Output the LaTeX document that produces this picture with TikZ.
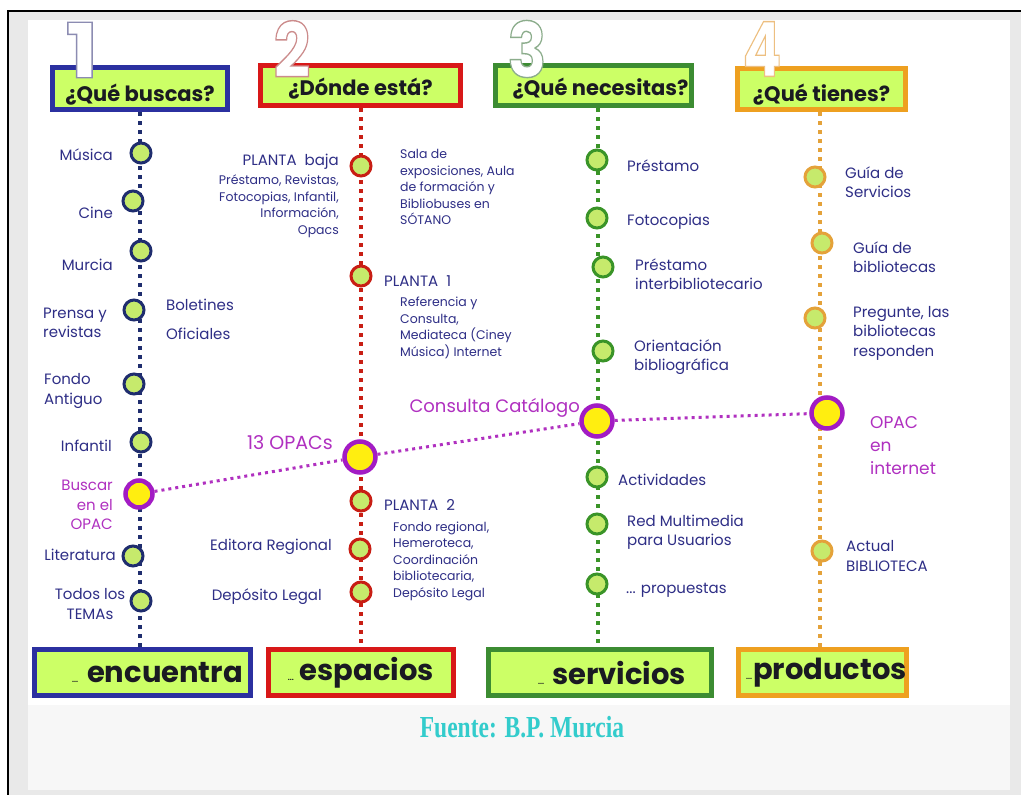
\documentclass[tikz,border=0pt]{standalone}
\usepackage{fontspec}
\setmainfont{Poppins}
\newfontfamily\fuentefont{Liberation Serif}
\usepackage{graphicx}
\usetikzlibrary{calc}
\definecolor{navyT}{HTML}{2E2E86}
\definecolor{blueB}{HTML}{2B30A0}
\definecolor{redB}{HTML}{D81818}
\definecolor{greenB}{HTML}{3C8C32}
\definecolor{orangeB}{HTML}{EEA020}
\definecolor{boxfill}{HTML}{CCFF66}
\definecolor{circfill}{HTML}{C6EA6C}
\definecolor{navyC}{HTML}{1F2D6E}
\definecolor{redC}{HTML}{C81E14}
\definecolor{greenC}{HTML}{3A9428}
\definecolor{orangeC}{HTML}{E4A23A}
\definecolor{purpleC}{HTML}{A21CC4}
\definecolor{purpleT}{HTML}{B030C0}
\definecolor{yellowC}{HTML}{FFEE10}
\definecolor{frameG}{HTML}{E9E9E9}
\definecolor{lightG}{HTML}{F7F7F7}
\definecolor{tealT}{HTML}{33CCCC}
\definecolor{headT}{HTML}{1A1A22}
\pgfdeclarelayer{bg}
\pgfsetlayers{bg,main}
\tikzset{
  hbox/.style={rectangle, line width=5, fill=boxfill, text=headT, inner sep=0,
    font=\bfseries\fontsize{21}{21}\selectfont},
  bbox/.style={rectangle, line width=5, fill=boxfill, text=headT, inner sep=0,
    font=\bfseries\fontsize{29}{29}\selectfont},
  digitnode/.style={inner sep=0, font=\bfseries\fontsize{76}{76}\selectfont},
  lb/.style={text=navyT, inner sep=0, font=\fontsize{15}{19.5}\selectfont},
  sm/.style={text=navyT, inner sep=0, font=\fontsize{12.5}{16.5}\selectfont},
  circ/.style={circle, minimum size=20, inner sep=0, line width=3, fill=circfill},
  c1/.style={circ, draw=navyC},
  c2/.style={circ, draw=redC},
  c3/.style={circ, draw=greenC},
  c4/.style={circ, draw=orangeC},
  bigc/.style={circle, minimum size=31, inner sep=0, line width=4.5, draw=purpleC, fill=yellowC},
  spine/.style={line width=4, dash pattern=on 4 off 5},
  opacline/.style={line width=3, dash pattern=on 3 off 4, draw=purpleT},
}
% outlined (white filled, coloured stroke) text
\newcommand\outlinetext[2]{{\color{white}\special{pdf:literal direct #1 RG 2 Tr 1.4 w}#2\special{pdf:literal direct 0 Tr}}}
\newcommand\tdots{{\fontsize{7}{7}\selectfont ...}}
\newcommand\lowered[2]{\raisebox{-#1}[\height][\depth]{#2}}
\begin{document}
\begin{tikzpicture}[x=1pt,y=-1pt]
\useasboundingbox (0,0) rectangle (1021,795);

% header boxes
\node[hbox, draw=blueB, minimum width=175, minimum height=42] (h1) at (140,88.5) {\lowered{6pt}{¿Qué buscas?}};
\node[hbox, draw=redB, minimum width=200, minimum height=40] (h2) at (360.5,85.5) {\lowered{3pt}{¿Dónde está?}};
\node[hbox, draw=greenB, minimum width=196, minimum height=40] (h3) at (593.5,85.5) {\lowered{3pt}{\hspace*{14pt}¿Qué necesitas?}};
\node[hbox, draw=orangeB, minimum width=168, minimum height=41] (h4) at (821.5,89) {\lowered{6pt}{¿Qué tienes?}};

% big digits
\node[digitnode] (d1) at (82,50) {\scalebox{1.15}[1]{\outlinetext{0.55 0.55 0.70}{1}}};
\node[digitnode] (d2) at (292,49) {\scalebox{0.85}[1]{\outlinetext{0.80 0.55 0.55}{2}}};
\node[digitnode] (d3) at (527,49) {\scalebox{0.85}[1]{\outlinetext{0.55 0.68 0.55}{3}}};
\node[digitnode] (d4) at (762,49) {\scalebox{0.75}[1]{\outlinetext{0.93 0.75 0.50}{4}}};

% bottom boxes
\node[bbox, draw=blueB, minimum width=216, minimum height=46] (b1) at (142.5,672.5) {\hspace*{30pt}\tdots\hspace{9pt}encuentra};
\node[bbox, draw=redB, minimum width=185, minimum height=46] (b2) at (361,672.5) {\tdots\hspace{6pt}espacios};
\node[bbox, draw=greenB, minimum width=223, minimum height=46] (b3) at (600,672.5) {\hspace*{24pt}\tdots\hspace{8pt}servicios};
\node[bbox, draw=orangeB, minimum width=166, minimum height=46] (b4) at (822.5,672.5) {\hspace*{8pt}\tdots\hspace{1pt}productos};

% column 1 circles
\node[c1] (musica) at (141,153) {};
\node[c1] (cine) at (133,201) {};
\node[c1] (murcia) at (141,251) {};
\node[c1] (prensa) at (134,310) {};
\node[c1] (fondo) at (134,384) {};
\node[c1] (infantil) at (141,442) {};
\node[bigc, minimum size=27] (buscar) at (139,494) {};
\node[c1] (literatura) at (133,556) {};
\node[c1] (todos) at (141,601) {};

% column 2 circles
\node[c2] (pb) at (361,166) {};
\node[c2] (p1) at (361,276) {};
\node[bigc] (opacs) at (360,457) {};
\node[c2] (p2) at (361,501) {};
\node[c2] (editora) at (360,549) {};
\node[c2] (deposito) at (361,592) {};

% column 3 circles
\node[c3] (prest) at (597,160) {};
\node[c3] (foto) at (597,218) {};
\node[c3] (inter) at (603,267) {};
\node[c3] (orient) at (603,351) {};
\node[bigc] (catalogo) at (597,421) {};
\node[c3] (act) at (597,477) {};
\node[c3] (red) at (597,524) {};
\node[c3] (prop) at (597,584) {};

% column 4 circles
\node[c4] (gs) at (815,177) {};
\node[c4] (gb) at (822,243) {};
\node[c4] (preg) at (815,318) {};
\node[bigc] (opacint) at (827,413) {};
\node[c4] (actual) at (822,551) {};

% purple connector
\draw[opacline] (buscar) -- (opacs) -- (catalogo) -- (opacint);

% column 1 labels
\node[lb, anchor=east] (lMusica) at (113,155) {Música};
\node[lb, anchor=east] (lCine) at (113,213) {Cine};
\node[lb, anchor=east] (lMurcia) at (113,265) {Murcia};
\node[lb, anchor=west, align=left] (lPrensa) at (43,323) {Prensa y\\revistas};
\node[lb, anchor=west] (lBol) at (166,305) {Boletines};
\node[lb, anchor=west] (lOfi) at (166,334) {Oficiales};
\node[lb, anchor=west, align=left] (lFondo) at (44,391) {Fondo\\Antiguo};
\node[lb, anchor=east] (lInf) at (112,446) {Infantil};
\node[lb, anchor=east, align=right, text=purpleT] (lBuscar) at (113,505) {Buscar\\en el\\OPAC};
\node[lb, anchor=east] (lLit) at (116,555) {Literatura};
\node[lb, align=center] (lTodos) at (90,604) {Todos los\\TEMAs};

% column 2 labels
\node[lb, anchor=east] (lPB) at (339,162) {PLANTA\ \ baja};
\node[sm, anchor=east, align=right] (lPBs) at (339,206) {Préstamo, Revistas,\\Fotocopias, Infantil,\\Información,\\Opacs};
\node[sm, anchor=west, align=left] (lSala) at (400,187) {Sala de\\exposiciones, Aula\\de formación y\\Bibliobuses en\\SÓTANO};
\node[lb, anchor=west] (lP1) at (384,281) {PLANTA\ \ 1};
\node[sm, anchor=west, align=left] (lP1s) at (400,328) {Referencia y\\Consulta,\\Mediateca (Ciney\\Música) Internet};
\node[lb, anchor=east, text=purpleT, font=\fontsize{19}{20}\selectfont] (l13) at (333,443) {13 OPACs};
\node[lb, anchor=west] (lP2) at (384,505) {PLANTA\ \ 2};
\node[sm, anchor=west, align=left] (lP2s) at (393,561) {Fondo regional,\\Hemeroteca,\\Coordinación\\bibliotecaria,\\Depósito Legal};
\node[lb, anchor=east] (lEd) at (332,547) {Editora Regional};
\node[lb, anchor=east] (lDep) at (322,597) {Depósito Legal};

% column 3 labels
\node[lb, anchor=west] (lPrest) at (627,166) {Préstamo};
\node[lb, anchor=west] (lFoto) at (627,222) {Fotocopias};
\node[lb, anchor=west, align=left] (lInter) at (635,274) {Préstamo\\interbibliotecario};
\node[lb, anchor=west, align=left] (lOrient) at (634,357) {Orientación\\bibliográfica};
\node[lb, anchor=east, text=purpleT, font=\fontsize{18}{20}\selectfont] (lCat) at (580,408) {Consulta Catálogo};
\node[lb, anchor=west] (lAct) at (618,480) {Actividades};
\node[lb, anchor=west, align=left] (lRed) at (627,532) {Red Multimedia\\para Usuarios};
\node[lb, anchor=west] (lProp) at (626,590) {... propuestas};

% column 4 labels
\node[lb, anchor=west, align=left] (lGS) at (845,182) {Guía de\\Servicios};
\node[lb, anchor=west, align=left] (lGB) at (853,257) {Guía de\\bibliotecas};
\node[lb, anchor=west, align=left] (lPreg) at (853,333) {Pregunte, las\\bibliotecas\\responden};
\node[lb, anchor=west, align=left, text=purpleT, font=\fontsize{17}{23}\selectfont] (lOPACi) at (870,446) {OPAC\\en\\internet};
\node[lb, anchor=west, align=left] (lActual) at (846,556) {Actual\\BIBLIOTECA};

% source
\node[text=tealT, inner sep=0, font=\fuentefont\bfseries\fontsize{23.5}{24}\selectfont] (src) at (522,727) {\scalebox{1}[1.3]{Fuente: B.P. Murcia}};

\begin{pgfonlayer}{bg}
  \fill[white] (0,0) rectangle (1021,795);
  \fill[frameG] (8,11) rectangle (1021,795);
  \draw[black, line width=2] (8,795) -- (8,11) -- (1021,11);
  \fill[white] (28,20) rectangle (1010,705);
  \fill[lightG] (28,705) rectangle (1010,790);
  \coordinate (s1) at (140,0);
  \coordinate (s2) at (361,0);
  \coordinate (s3) at (598,0);
  \coordinate (s4) at (820,0);
  \draw[spine, navyC] (s1 |- h1.south) -- (s1 |- b1.north);
  \draw[spine, redC] (s2 |- h2.south) -- (s2 |- b2.north);
  \draw[spine, greenC] (s3 |- h3.south) -- (s3 |- b3.north);
  \draw[spine, orangeC] (s4 |- h4.south) -- (s4 |- b4.north);
\end{pgfonlayer}
\end{tikzpicture}
\end{document}
